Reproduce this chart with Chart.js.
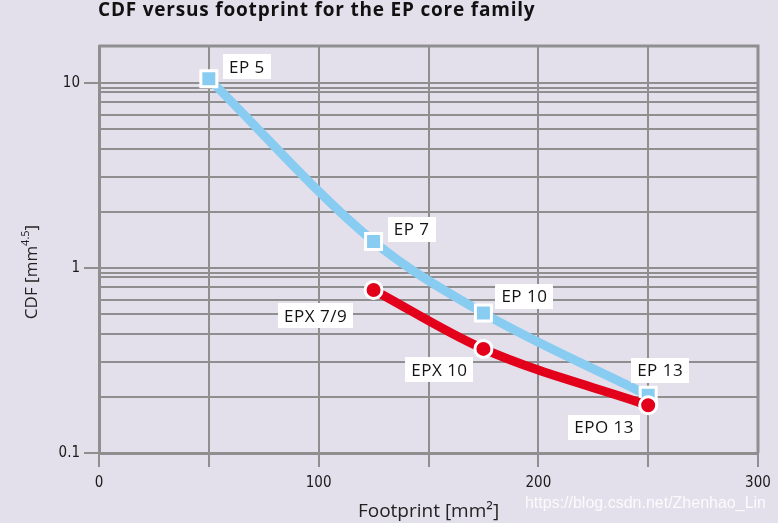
<!DOCTYPE html>
<html>
<head>
<meta charset="utf-8">
<script src="https://cdn.jsdelivr.net/npm/chart.js@4/dist/chart.umd.min.js"></script>
<style>
  html, body { margin: 0; padding: 0; background: #e3e0ec; }
</style>
</head>
<body>
<canvas id="cdfChart" width="778" height="523"></canvas>
<script>
// EP cores (blue squares)
const epNames = ['EP 5', 'EP 7', 'EP 10', 'EP 13'];
const epFootprint = [50, 125, 175, 250];
const epCdf = [10.5, 1.39, 0.57, 0.205];

// EPX / EPO cores (red circles)
const epxNames = ['EPX 7/9', 'EPX 10', 'EPO 13'];
const epxFootprint = [125, 175, 250];
const epxCdf = [0.76, 0.365, 0.181];

// axis ticks
const xTicks = [0, 50, 100, 150, 200, 250, 300];
const xTickLabels = ['0', '', '100', '', '200', '', '300'];
const yGridValues = [0.1, 0.2, 0.31, 0.44, 0.565, 0.67, 0.79, 0.89, 0.94,
                     1, 2, 3.1, 4.4, 5.65, 6.7, 7.9, 8.9, 9.4, 10];
const yLabelValues = [0.1, 1, 10];
const yTickLabels = ['0.1', '1', '10'];

// label box offsets from the marker (pixels)
const epLabelOffsets = [[38, -12], [38, -12], [41, -17], [12, -25]];
const epxLabelOffsets = [[-58, 26], [-44, 21], [-44, 22]];

const gridGray = '#8f8f8f';
const textFont = '"Open Sans", "DejaVu Sans", sans-serif';
const tickFont = '"Liberation Sans Narrow", "DejaVu Sans Condensed", sans-serif';

const toPoints = (xs, ys) => xs.map((x, i) => ({ x: x, y: ys[i] }));

const decorPlugin = {
  id: 'decor',
  beforeDatasetsDraw(chart) {
    const { ctx, chartArea: a } = chart;
    ctx.save();
    ctx.strokeStyle = gridGray;
    ctx.lineWidth = 3;
    ctx.beginPath();
    ctx.moveTo(a.left, a.top);
    ctx.lineTo(a.right, a.top);
    ctx.lineTo(a.right, a.bottom);
    ctx.stroke();
    ctx.restore();
  },
  afterDatasetsDraw(chart) {
    const ctx = chart.ctx;
    const drawLabels = (dsIndex, names, offsets) => {
      const meta = chart.getDatasetMeta(dsIndex);
      ctx.font = '17px ' + textFont;
      ctx.letterSpacing = '0.5px';
      ctx.textAlign = 'center';
      ctx.textBaseline = 'middle';
      names.forEach((name, i) => {
        const pt = meta.data[i];
        const cx = pt.x + offsets[i][0];
        const cy = pt.y + offsets[i][1];
        const w = ctx.measureText(name).width + 12;
        const h = 25;
        ctx.fillStyle = '#ffffff';
        ctx.fillRect(Math.round(cx - w / 2), Math.round(cy - h / 2), Math.round(w), h);
        ctx.fillStyle = '#141414';
        ctx.fillText(name, cx, cy + 1);
      });
    };
    ctx.save();
    drawLabels(1, epNames, epLabelOffsets);
    drawLabels(0, epxNames, epxLabelOffsets);
    ctx.restore();
  },
  afterDraw(chart) {
    const ctx = chart.ctx;
    ctx.save();
    // title
    ctx.fillStyle = '#111111';
    ctx.font = 'bold 19px ' + textFont;
    ctx.letterSpacing = '0.8px';
    ctx.textAlign = 'left';
    ctx.textBaseline = 'alphabetic';
    ctx.fillText('CDF versus footprint for the EP core family', 98, 16);
    ctx.letterSpacing = '0px';

    // y axis title with superscript
    ctx.translate(32, 272);
    ctx.rotate(-Math.PI / 2);
    ctx.fillStyle = '#222222';
    const mainFont = '17px ' + textFont;
    const supFont = '11px ' + textFont;
    ctx.font = mainFont;
    const w1 = ctx.measureText('CDF [mm').width;
    const w3 = ctx.measureText(']').width;
    ctx.font = supFont;
    const w2 = ctx.measureText('4.5').width;
    let x = -(w1 + w2 + w3) / 2;
    ctx.textBaseline = 'middle';
    ctx.font = mainFont;
    ctx.fillText('CDF [mm', x, 0);
    x += w1;
    ctx.font = supFont;
    ctx.fillText('4.5', x, -6);
    x += w2;
    ctx.font = mainFont;
    ctx.fillText(']', x, 0);
    ctx.restore();

    // watermark
    ctx.save();
    ctx.font = '16px "Liberation Sans", Arial, sans-serif';
    ctx.textAlign = 'right';
    ctx.textBaseline = 'middle';
    ctx.fillStyle = 'rgba(255,255,255,0.85)';
    ctx.fillText('https://blog.csdn.net/Zhenhao_Lin', 766, 504);
    ctx.restore();
  }
};

new Chart(document.getElementById('cdfChart'), {
  type: 'line',
  data: {
    datasets: [
      {
        label: 'EPX',
        data: toPoints(epxFootprint, epxCdf),
        borderColor: '#e2001a',
        borderWidth: 9,
        cubicInterpolationMode: 'monotone',
        pointStyle: 'circle',
        pointRadius: 8.5,
        pointBackgroundColor: '#e2001a',
        pointBorderColor: '#ffffff',
        pointBorderWidth: 3
      },
      {
        label: 'EP',
        data: toPoints(epFootprint, epCdf),
        borderColor: '#88ccf1',
        borderWidth: 9,
        cubicInterpolationMode: 'monotone',
        pointStyle: 'rect',
        pointRadius: 11.3,
        pointBackgroundColor: '#88ccf1',
        pointBorderColor: '#ffffff',
        pointBorderWidth: 3
      }
    ]
  },
  options: {
    responsive: false,
    animation: false,
    devicePixelRatio: 1,
    layout: { padding: { top: 46, right: 20, left: 0, bottom: 0 } },
    plugins: {
      legend: { display: false },
      tooltip: { enabled: false }
    },
    scales: {
      x: {
        type: 'linear',
        min: 0,
        max: 300,
        afterBuildTicks: s => { s.ticks = xTicks.map(v => ({ value: v })); },
        afterFit: s => { s.height = 70; },
        ticks: {
          autoSkip: false,
          maxRotation: 0,
          padding: 7,
          color: '#1a1a1a',
          font: { family: tickFont, size: 15 },
          callback: v => xTickLabels[xTicks.indexOf(v)]
        },
        grid: { color: gridGray, lineWidth: 2, tickLength: 14, drawTicks: true },
        border: { display: true, color: gridGray, width: 3 },
        title: {
          display: true,
          text: 'Footprint [mm²]',
          color: '#222222',
          font: { family: textFont, size: 19 },
          padding: { top: 7, bottom: 0 }
        }
      },
      y: {
        type: 'logarithmic',
        min: 0.1,
        max: 15.8,
        afterBuildTicks: s => { s.ticks = yGridValues.map(v => ({ value: v })); },
        afterFit: s => { s.width = 99; },
        ticks: {
          autoSkip: false,
          padding: 4,
          color: '#1a1a1a',
          font: { family: tickFont, size: 15 },
          callback: v => {
            const k = yLabelValues.indexOf(v);
            return k >= 0 ? yTickLabels[k] : '';
          }
        },
        grid: {
          color: gridGray,
          lineWidth: 2,
          tickLength: 15,
          tickColor: c => (c.tick && yLabelValues.includes(c.tick.value)) ? gridGray : 'rgba(0,0,0,0)'
        },
        border: { display: true, color: gridGray, width: 3 }
      }
    }
  },
  plugins: [decorPlugin]
});
</script>
</body>
</html>
